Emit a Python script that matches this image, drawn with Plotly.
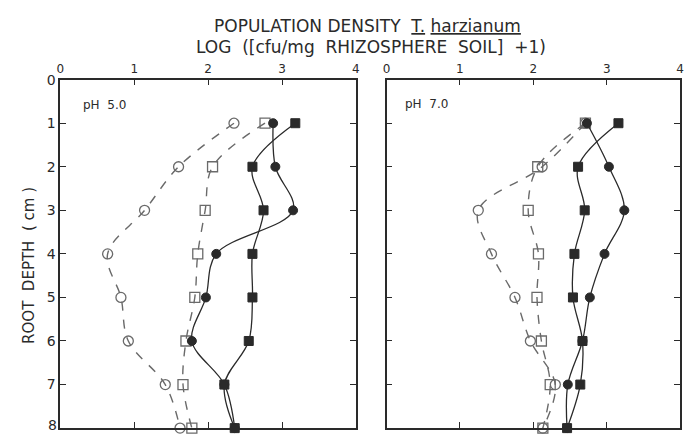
import plotly.graph_objects as go

depth = [1, 2, 3, 4, 5, 6, 7, 8]

# pH 5.0 panel
ph5_open_circle = [2.35, 1.60, 1.14, 0.64, 0.82, 0.92, 1.42, 1.62]
ph5_open_square = [2.77, 2.06, 1.96, 1.86, 1.82, 1.70, 1.66, 1.78]
ph5_filled_circle = [2.88, 2.91, 3.15, 2.11, 1.97, 1.78, 2.22, 2.36]
ph5_filled_square = [3.18, 2.60, 2.75, 2.60, 2.60, 2.55, 2.22, 2.36]

# pH 7.0 panel
ph7_open_circle = [2.71, 2.12, 1.25, 1.43, 1.75, 1.96, 2.30, 2.13]
ph7_open_square = [2.71, 2.06, 1.93, 2.07, 2.05, 2.11, 2.23, 2.13]
ph7_filled_circle = [2.73, 3.03, 3.24, 2.97, 2.77, 2.67, 2.47, 2.46]
ph7_filled_square = [3.16, 2.61, 2.70, 2.56, 2.54, 2.67, 2.64, 2.46]

x_ticks = [0, 1, 2, 3, 4]
y_ticks = [0, 1, 2, 3, 4, 5, 6, 7, 8]
y_ticktext = ["0", "1", "2", "3", "4", "5", "6", "7", ""]  # "8" placed separately to stay inside page
y_last_label = "8"

INK = "#2a2a2a"
GRAY = "#6a6a6a"
FONT = "DejaVu Sans"

fig = go.Figure()


def add_series(xs, xa, ya, symbol, filled, dashed):
    line = dict(color=INK if not dashed else GRAY, width=1.3 if not dashed else 1.4,
                shape="spline", smoothing=1.0, dash="dash" if dashed else "solid")
    if filled:
        marker = dict(symbol=symbol, size=9, color=INK, line=dict(color=INK, width=1))
    else:
        marker = dict(symbol=symbol + "-open", size=10, color=GRAY, line=dict(color=GRAY, width=1.3))
    fig.add_trace(go.Scatter(x=xs, y=depth, mode="lines+markers", line=line, marker=marker,
                             xaxis=xa, yaxis=ya, showlegend=False, cliponaxis=False))


add_series(ph5_open_circle, "x", "y", "circle", False, True)
add_series(ph5_open_square, "x", "y", "square", False, True)
add_series(ph5_filled_circle, "x", "y", "circle", True, False)
add_series(ph5_filled_square, "x", "y", "square", True, False)

add_series(ph7_open_circle, "x2", "y2", "circle", False, True)
add_series(ph7_open_square, "x2", "y2", "square", False, True)
add_series(ph7_filled_circle, "x2", "y2", "circle", True, False)
add_series(ph7_filled_square, "x2", "y2", "square", True, False)

W, H = 693, 434
ydom = [1 - 428 / H, 1 - 73 / H]

xcommon = dict(range=[0, 4], tickvals=x_ticks, ticks="inside", ticklen=6, tickcolor=INK,
               tickwidth=1.2, showline=True, linecolor=INK, linewidth=1.6, mirror="allticks",
               side="top", showgrid=False, zeroline=False,
               tickfont=dict(family=FONT, size=12, color=INK), fixedrange=True)
ycommon = dict(range=[8, 0], tickvals=y_ticks, ticktext=y_ticktext, ticks="inside", ticklen=6,
               tickcolor=INK, tickwidth=1.2, showline=True, linecolor=INK, linewidth=1.6,
               mirror="allticks", showgrid=False, zeroline=False, domain=ydom,
               tickfont=dict(family=FONT, size=14, color=INK), fixedrange=True)

fig.update_layout(
    width=W, height=H,
    margin=dict(l=0, r=0, t=0, b=0),
    paper_bgcolor="white", plot_bgcolor="white",
    xaxis=dict(xcommon, domain=[57 / W, 356 / W], anchor="y"),
    yaxis=dict(ycommon, anchor="x"),
    xaxis2=dict(xcommon, domain=[387 / W, 684 / W], anchor="y2"),
    yaxis2=dict(ycommon, anchor="x2", showticklabels=False),
)

ann = [
    dict(text='POPULATION DENSITY  <span style="text-decoration:underline">T.</span> '
              '<span style="text-decoration:underline">harzianum</span>',
         x=368 / W, y=1 - 18 / H, font=dict(size=17, color=INK, family=FONT)),
    dict(text="LOG  ([cfu/mg  RHIZOSPHERE  SOIL]  +1)",
         x=371 / W, y=1 - 40 / H, font=dict(size=17, color=INK, family=FONT)),
    dict(text="ROOT  DEPTH  ( cm )", x=25 / W, y=1 - 262 / H, textangle=-90,
         font=dict(size=15, color=INK, family=FONT)),
    dict(text="pH  5.0", x=102 / W, y=1 - 99 / H, font=dict(size=12, color=INK, family=FONT)),
    dict(text="pH  7.0", x=427 / W, y=1 - 98 / H, font=dict(size=12, color=INK, family=FONT)),
]
for a in ann:
    a.update(xref="paper", yref="paper", showarrow=False, xanchor="center", yanchor="middle")
ann.append(dict(text=y_last_label, xref="paper", yref="paper", x=55 / W, y=0,
                xanchor="right", yanchor="bottom", showarrow=False, borderpad=0,
                font=dict(size=14, color=INK, family=FONT)))
fig.update_layout(annotations=ann)

fig.write_html("out.html")
